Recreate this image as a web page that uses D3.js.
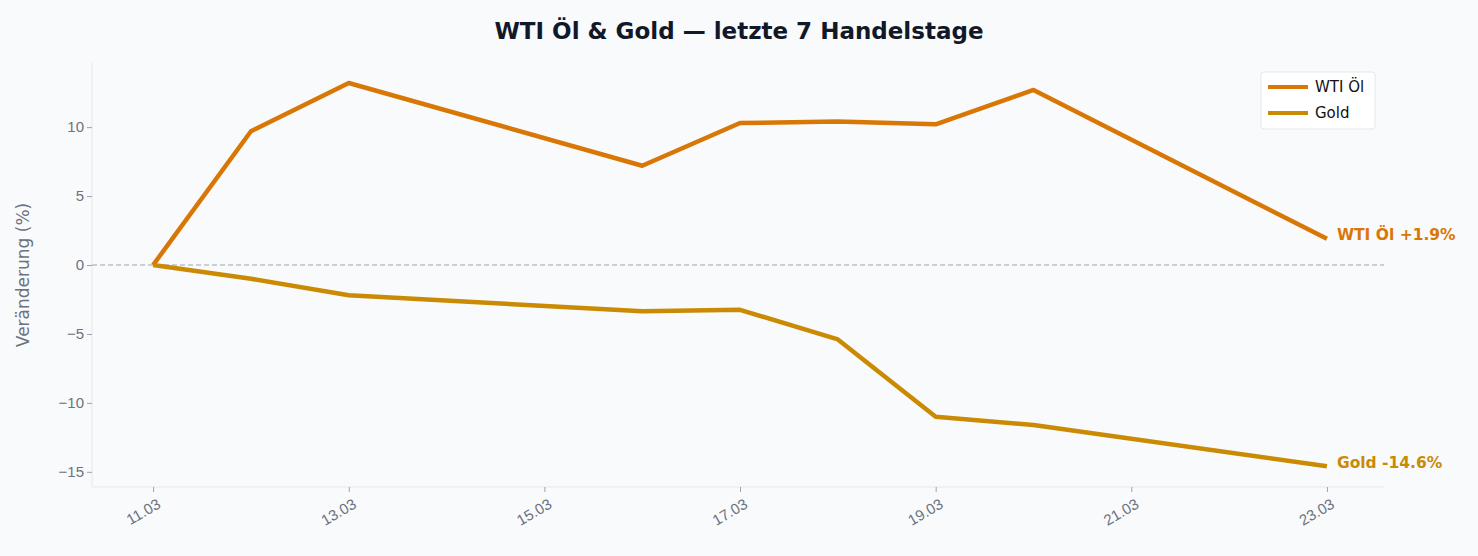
<!DOCTYPE html>
<html><head><meta charset="utf-8">
<script src="https://cdn.jsdelivr.net/npm/d3@7"></script>
<style>body{margin:0;background:#f9fafb;font-family:"DejaVu Sans",sans-serif}</style>
</head><body><svg id="c" width="1478" height="556"></svg>
<script>
const dates = ["2025-03-11","2025-03-12","2025-03-13","2025-03-16","2025-03-17","2025-03-18","2025-03-19","2025-03-20","2025-03-23"];
const wti = [0, 9.7, 13.2, 7.2, 10.3, 10.4, 10.2, 12.7, 1.9];
const gold = [0, -1.0, -2.2, -3.35, -3.25, -5.4, -11.0, -11.6, -14.6];
const tickDates = ["2025-03-11","2025-03-13","2025-03-15","2025-03-17","2025-03-19","2025-03-21","2025-03-23"];
const yTicks = [-15,-10,-5,0,5,10];
const series = [{name:"WTI Öl", values:wti, color:"#d97706"},{name:"Gold", values:gold, color:"#ca8a04"}];

const svg = d3.select("#c");
svg.append("rect").attr("width",1478).attr("height",556).attr("fill","#f9fafb");
const p = d3.timeParse("%Y-%m-%d");
const fmt = d3.timeFormat("%d.%m");
const L=92,R=1384,T=63,B=487;
const x = d3.scaleTime().domain([d3.timeHour.offset(p(dates[0]),-14.4), d3.timeHour.offset(p(dates[8]),14.4)]).range([L,R]);
const y = d3.scaleLinear().domain([-16.1,14.65]).range([B,T]);

svg.append("text").attr("x",739).attr("y",39).attr("text-anchor","middle").attr("font-size",23).attr("font-weight","bold").attr("fill","#111827").text("WTI Öl & Gold — letzte 7 Handelstage");

const xa = svg.append("g").attr("transform",`translate(0,${B})`).call(d3.axisBottom(x).tickValues(tickDates.map(p)).tickFormat(fmt).tickSize(5));
xa.selectAll("text").attr("font-size",15).attr("fill","#6b7280").attr("text-anchor","end").attr("transform","rotate(-30)").attr("dx","-0.2em").attr("dy","0.9em");
const ya = svg.append("g").attr("transform",`translate(${L},0)`).call(d3.axisLeft(y).tickValues(yTicks).tickFormat(d=>d<0?"−"+Math.abs(d):d).tickSize(5));
ya.selectAll("text").attr("font-size",15).attr("fill","#6b7280");
[xa,ya].forEach(a=>{a.selectAll("line").attr("stroke","#9ca3af");a.select(".domain").attr("stroke","#e5e7eb");});
xa.select(".domain").attr("d",`M${L},0H${R}`);
ya.select(".domain").attr("d",`M0,${T}V${B}`);

svg.append("text").attr("transform",`translate(29,${(T+B)/2}) rotate(-90)`).attr("text-anchor","middle").attr("font-size",17).attr("fill","#6b7280").text("Veränderung (%)");

svg.append("line").attr("x1",L).attr("x2",R).attr("y1",y(0)).attr("y2",y(0)).attr("stroke","#9ca3af").attr("stroke-dasharray","5,3").attr("stroke-width",1.2);

const line = d3.line().x((d,i)=>x(p(dates[i]))).y(d=>y(d));
series.forEach(s=>{
  svg.append("path").attr("d",line(s.values)).attr("fill","none").attr("stroke",s.color).attr("stroke-width",4.5).attr("stroke-linejoin","round");
  const v=s.values[s.values.length-1];
  svg.append("text").attr("x",x(p(dates[8]))+10).attr("y",y(v)-4).attr("dy","0.35em").attr("font-size",15.5).attr("font-weight","bold").attr("fill",s.color).text(`${s.name} ${v>0?"+":""}${v.toFixed(1)}%`);
});

const lg = svg.append("g").attr("transform","translate(1261,72)");
lg.append("rect").attr("width",114).attr("height",57).attr("rx",3).attr("fill","#fff").attr("stroke","#e5e7eb");
series.forEach((s,i)=>{
  lg.append("line").attr("x1",7).attr("x2",47).attr("y1",15+i*26).attr("y2",15+i*26).attr("stroke",s.color).attr("stroke-width",4);
  lg.append("text").attr("x",54).attr("y",15+i*26).attr("dy","0.35em").attr("font-size",15).attr("fill","#111").text(s.name);
});
</script></body></html>
